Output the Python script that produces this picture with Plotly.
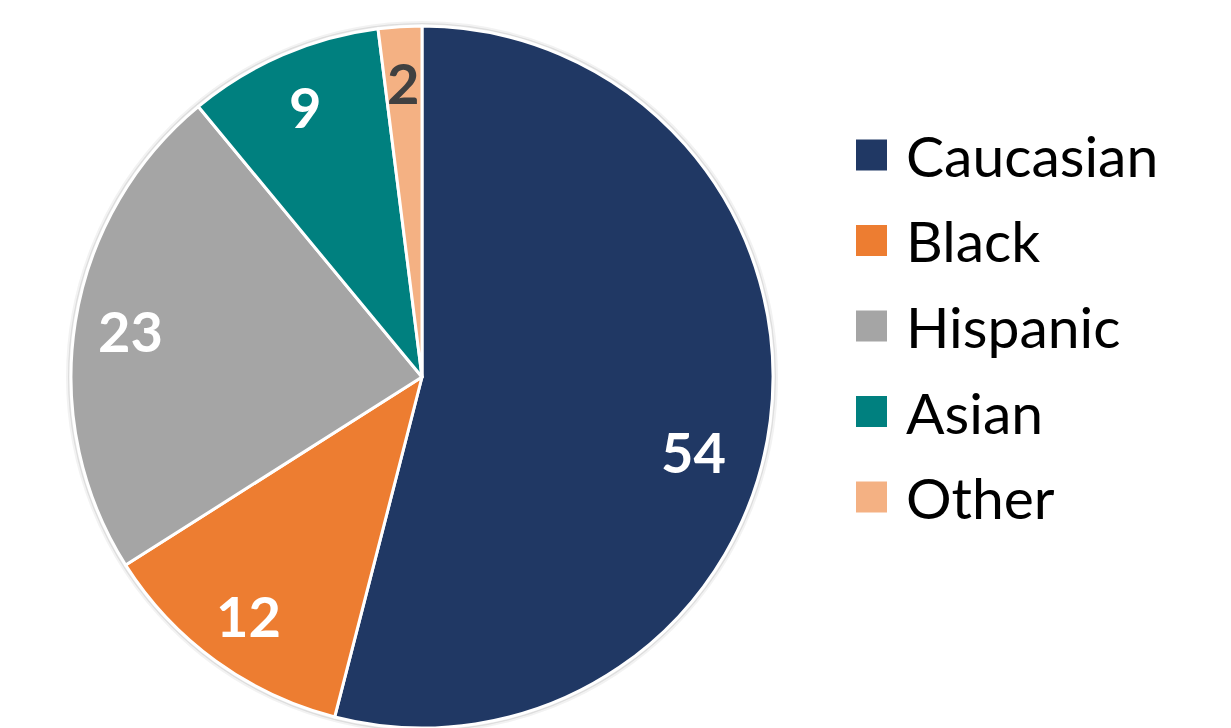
import math
import plotly.graph_objects as go

categories = ["Caucasian", "Black", "Hispanic", "Asian", "Other"]
values = [54, 12, 23, 9, 2]
colors = ["#203864", "#ED7D31", "#A5A5A5", "#00807F", "#F4B183"]
label_colors = ["white", "white", "white", "white", "#404040"]

W, H = 1231, 728
OFF = 8                    # page body margin
CX, CY = 422 - OFF, 377 - OFF   # pie centre in figure pixels (from top)
R = 351                    # pie radius in pixels
FONT = "Lato, 'Open Sans', sans-serif"

fig = go.Figure()
fig.add_trace(go.Pie(
    labels=categories, values=values, sort=False, direction="clockwise",
    rotation=0, marker=dict(colors=colors, line=dict(color="white", width=3)),
    textinfo="none", showlegend=False, hoverinfo="label+value",
    domain=dict(x=[(CX - R) / W, (CX + R) / W],
                y=[(H - CY - R) / H, (H - CY + R) / H]),
))

# subtle shadow ring around the pie
for k, a in [(3.5, 0.05), (1.5, 0.09)]:
    fig.add_shape(type="circle", xref="paper", yref="paper", layer="below",
                  x0=(CX - R - k) / W, x1=(CX + R + k) / W,
                  y0=(H - CY - R - k) / H, y1=(H - CY + R + k) / H,
                  line=dict(color=f"rgba(0,0,0,{a})", width=3))

# data labels placed at slice mid-angles
total = sum(values)
cum = 0
annotations = []
for v, c in zip(values, label_colors):
    mid = (cum + v / 2) / total * 2 * math.pi
    cum += v
    f = 0.78 if v > 50 else 0.84
    px = CX + R * f * math.sin(mid)
    py = (H - CY) + R * f * math.cos(mid)
    if v > 50:
        py -= 40
    annotations.append(dict(x=px / W, y=py / H, xref="paper", yref="paper",
                            text=f"<b>{v}</b>", showarrow=False,
                            font=dict(family=FONT, size=56, color=c),
                            xanchor="center", yanchor="middle"))

# manual legend
LX, LY0, DY, SQ = 856 - OFF, 155 - OFF, 85.5, 31
for i, (cat, col) in enumerate(zip(categories, colors)):
    yc = LY0 + i * DY
    fig.add_shape(type="rect", xref="paper", yref="paper",
                  x0=LX / W, x1=(LX + SQ) / W,
                  y0=(H - yc - SQ / 2) / H, y1=(H - yc + SQ / 2) / H,
                  fillcolor=col, line=dict(width=0))
    annotations.append(dict(x=(LX + SQ + 17) / W, y=(H - yc) / H,
                            xref="paper", yref="paper", text=cat,
                            showarrow=False, xanchor="left", yanchor="middle",
                            font=dict(family=FONT, size=57, color="black")))

fig.update_layout(width=W, height=H, margin=dict(l=0, r=0, t=0, b=0),
                  paper_bgcolor="white", plot_bgcolor="white",
                  annotations=annotations, showlegend=False)
fig.write_html("out.html")
